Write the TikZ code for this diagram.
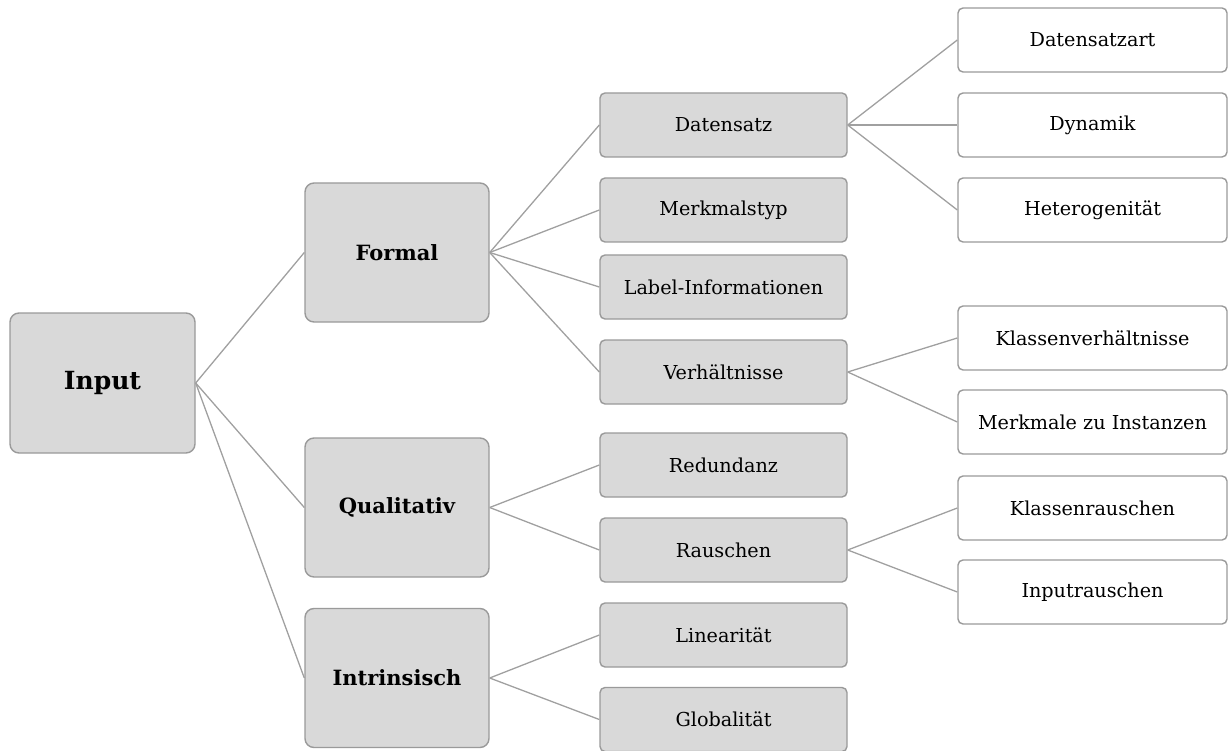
\documentclass[tikz,border=0pt]{standalone}
\usepackage{fontspec}
\setmainfont{DejaVu Serif}
\begin{document}
\begin{tikzpicture}[x=1pt,y=-1pt,
  link/.style={draw=linegray,line width=1.3pt},
  grp/.style={draw=boxgray,fill=fillgray,line width=1.4pt,rounded corners=9pt,
    minimum width=184pt,minimum height=139pt,font=\fontsize{21}{24}\selectfont\bfseries},
  sub/.style={draw=boxgray,fill=fillgray,line width=1.4pt,rounded corners=5pt,
    minimum width=247pt,minimum height=64pt,font=\fontsize{19.2}{22}\selectfont},
  leaf/.style={draw=boxgray,fill=white,line width=1.4pt,rounded corners=5pt,
    minimum width=269pt,minimum height=64pt,font=\fontsize{19.2}{22}\selectfont}]
\definecolor{fillgray}{HTML}{D9D9D9}
\definecolor{boxgray}{HTML}{9A9A9A}
\definecolor{linegray}{HTML}{A0A0A0}
\useasboundingbox (0,0) rectangle (1228,751);

% root
\node[grp,minimum width=185pt,minimum height=140pt,font=\fontsize{25}{28}\selectfont\bfseries] (input) at (102.5,383) {Input};

% first level
\node[grp] (formal) at (397,252.5) {Formal};
\node[grp] (qual) at (397,507.5) {Qualitativ};
\node[grp] (intr) at (397,678) {Intrinsisch};

% second level
\node[sub] (datensatz) at (723.5,125) {Datensatz};
\node[sub] (merkmal) at (723.5,210) {Merkmalstyp};
\node[sub] (label) at (723.5,287) {Label-Informationen};
\node[sub] (verh) at (723.5,372) {Verhältnisse};
\node[sub] (redund) at (723.5,465) {Redundanz};
\node[sub] (rausch) at (723.5,550) {Rauschen};
\node[sub] (linear) at (723.5,635) {Linearität};
\node[sub] (global) at (723.5,719.5) {Globalität};

% third level
\node[leaf] (art) at (1092.5,40) {Datensatzart};
\node[leaf] (dyn) at (1092.5,125) {Dynamik};
\node[leaf] (hetero) at (1092.5,210) {Heterogenität};
\node[leaf] (klverh) at (1092.5,338) {Klassenverhältnisse};
\node[leaf] (mzi) at (1092.5,422) {Merkmale zu Instanzen};
\node[leaf] (klrausch) at (1092.5,508) {Klassenrauschen};
\node[leaf] (inrausch) at (1092.5,592) {Inputrauschen};

% connectors
\foreach \a/\b in {input/formal,input/qual,input/intr,
  formal/datensatz,formal/merkmal,formal/label,formal/verh,
  qual/redund,qual/rausch,intr/linear,intr/global,
  datensatz/art,datensatz/dyn,datensatz/hetero,
  verh/klverh,verh/mzi,rausch/klrausch,rausch/inrausch}
  \draw[link] (\a.east) -- (\b.west);
\end{tikzpicture}
\end{document}
